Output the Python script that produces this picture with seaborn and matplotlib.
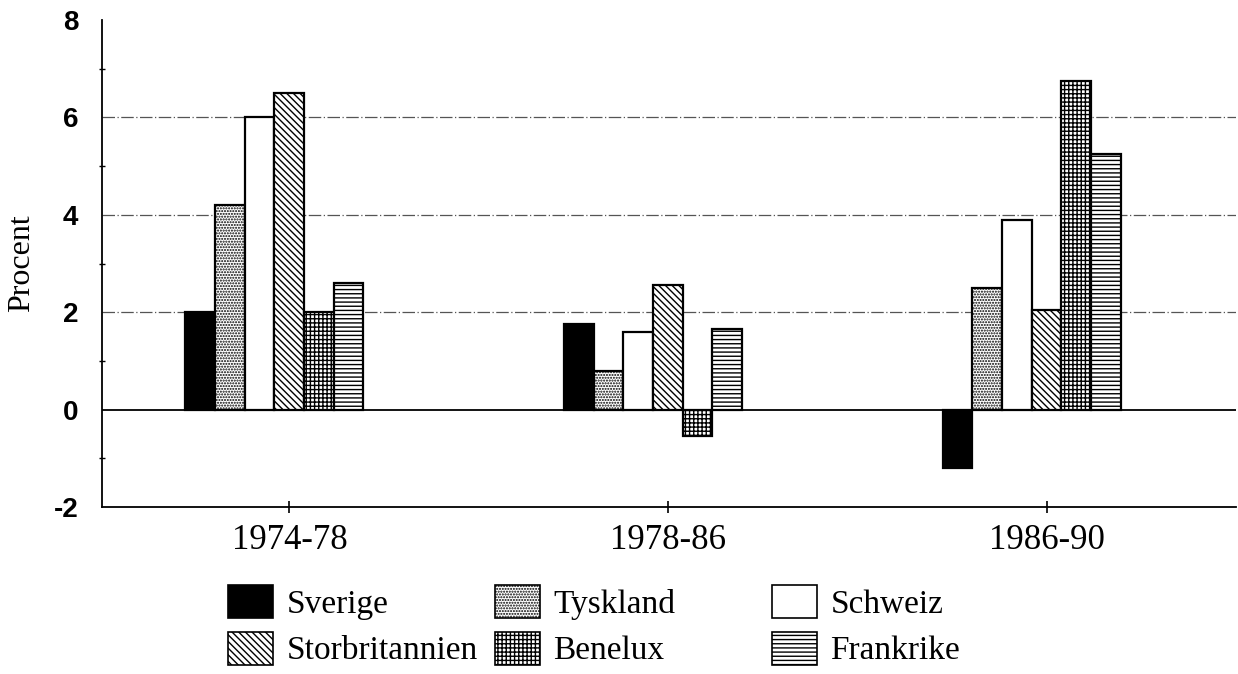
import pandas as pd
import matplotlib.pyplot as plt
import matplotlib.patches as mpatches
import seaborn as sns

# periods on the x axis and the countries (hue)
periods = ['1974-78', '1978-86', '1986-90']
countries = ['Sverige', 'Tyskland', 'Schweiz', 'Storbritannien', 'Benelux', 'Frankrike']

# values, one list per country (procent)
sverige = [2.0, 1.75, -1.2]
tyskland = [4.2, 0.8, 2.5]
schweiz = [6.0, 1.6, 3.9]
storbritannien = [6.5, 2.55, 2.05]
benelux = [2.0, -0.55, 6.75]
frankrike = [2.6, 1.65, 5.25]

y_ticks = [-2, 0, 2, 4, 6, 8]
grid_levels = [2, 4, 6]

# fill style per country
face_colors = ['black', 'white', 'white', 'white', 'white', 'white']
hatches = [None, '......', None, '\\\\\\\\\\', '++++', '----']

sns.set_style('white')
plt.rcParams['font.family'] = ['Liberation Serif', 'DejaVu Serif']
plt.rcParams['hatch.linewidth'] = 1.0
plt.rcParams['axes.unicode_minus'] = False
plt.rcParams['text.color'] = 'black'
plt.rcParams['xtick.color'] = 'black'
plt.rcParams['ytick.color'] = 'black'
plt.rcParams['axes.labelcolor'] = 'black'

# long form table for seaborn
values = [sverige, tyskland, schweiz, storbritannien, benelux, frankrike]
rows = []
for country, vals in zip(countries, values):
    for period, v in zip(periods, vals):
        rows.append(dict(period=period, country=country, procent=v))
df = pd.DataFrame(rows)

fig = plt.figure(figsize=(12.38, 6.74), dpi=100)
ax = fig.add_axes([102 / 1238, 1 - 507 / 674, (1236 - 102) / 1238, (507 - 20) / 674])

# reference lines first so the bars sit on top
for level in grid_levels:
    ax.axhline(level, color='#555555', lw=0.9, ls=(0, (10, 2, 1, 2)), zorder=0)
ax.axhline(0, color='black', lw=1.3, zorder=1)

sns.barplot(data=df, x='period', y='procent', hue='country', order=periods,
            hue_order=countries, palette=face_colors, width=0.47, dodge=True,
            edgecolor='black', linewidth=1.6, legend=False, ax=ax, zorder=2)

for container, hatch in zip(ax.containers, hatches):
    for bar in container:
        bar.set_hatch(hatch)
        bar.set_edgecolor('black')

ax.set_ylim(-2, 8)
ax.set_xlim(-0.455, 2.54)
ax.set_yticks(y_ticks)
ax.set_yticks([-1, 1, 3, 5, 7], minor=True)
ax.set_xticks([i + 0.04 for i in range(len(periods))])
ax.set_xticklabels(periods, fontsize=25)
ax.set_xlabel('')
ax.set_ylabel('Procent', fontsize=23)
ax.yaxis.set_label_coords(-0.058, 0.5)

ax.tick_params(axis='y', which='major', direction='out', length=7, width=1.2, pad=10)
ax.tick_params(axis='y', which='minor', direction='inout', length=4, width=1.0, left=True)
ax.tick_params(axis='x', which='major', direction='inout', length=9, width=1.2, pad=8, bottom=True)
for lab in ax.get_yticklabels():
    lab.set_fontfamily('Liberation Sans')
    lab.set_fontweight('bold')
    lab.set_fontsize(20)

sns.despine(ax=ax, top=True, right=True)
for side in ['left', 'bottom']:
    ax.spines[side].set_color('black')
    ax.spines[side].set_linewidth(1.3)

# legend: three columns, each placed under its own x position
handles = [mpatches.Patch(facecolor=c, edgecolor='black', hatch=h, linewidth=1.2)
           for c, h in zip(face_colors, hatches)]
legend_x = [228, 495, 772]
for col, x0 in enumerate(legend_x):
    idx = [col, col + 3]
    fig.legend([handles[i] for i in idx], [countries[i] for i in idx],
               loc='upper left', bbox_to_anchor=(x0 / 1238, 1 - 585 / 674),
               frameon=False, fontsize=24, handlelength=1.35, handleheight=1.15,
               handletextpad=0.4, labelspacing=0.35, borderpad=0, borderaxespad=0)

fig.savefig('out.png', dpi=100)
